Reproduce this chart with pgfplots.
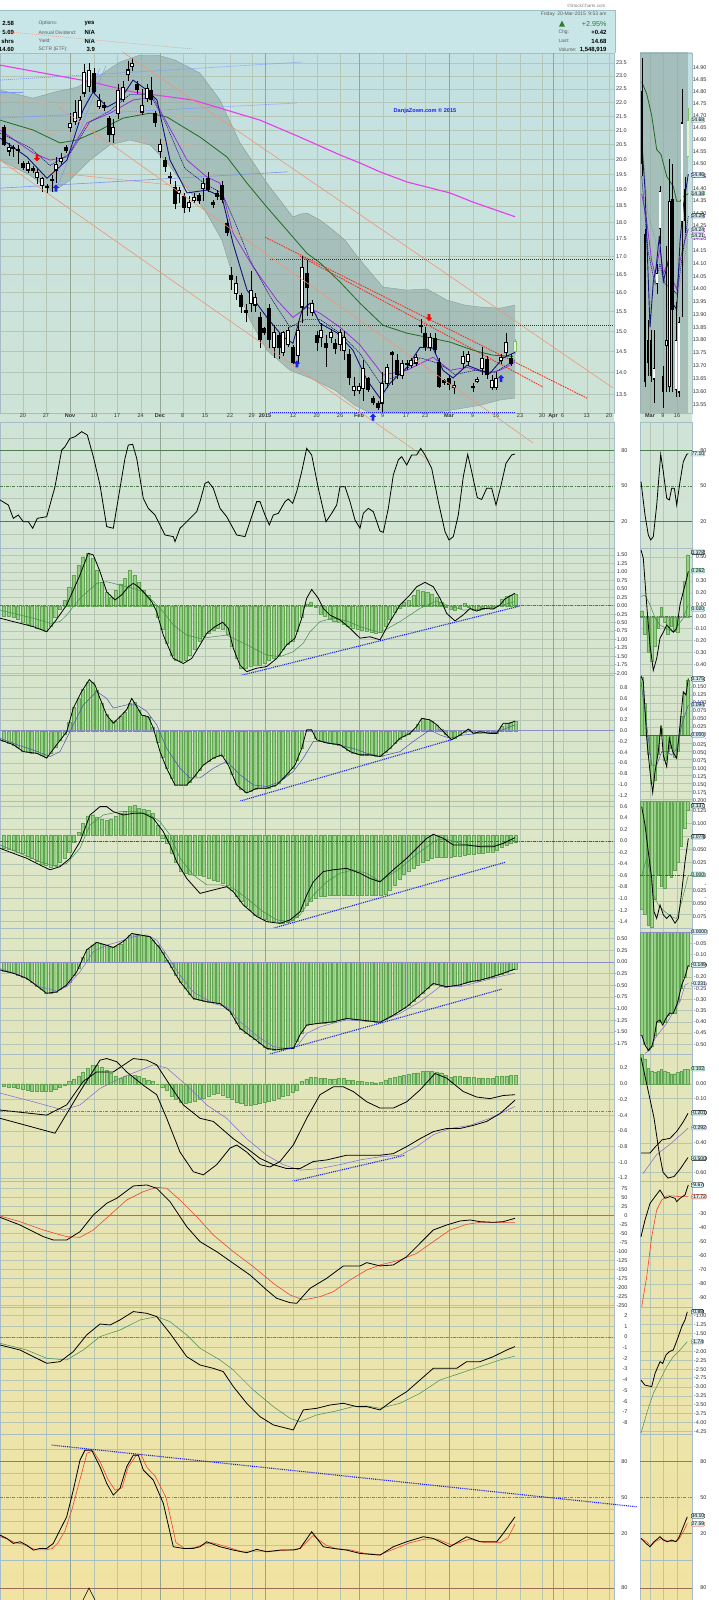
\documentclass[border=0pt]{standalone}
\usepackage{pgfplots}
\pgfplotsset{compat=1.18}
\usepackage{pgfplotstable}
\usepackage{fontspec}
\setmainfont{Liberation Sans}

\definecolor{hdr}{HTML}{C8E6E8}
\definecolor{hdrline}{HTML}{9DBFC8}
\definecolor{bgtop}{HTML}{C3E1E3}
\definecolor{bgmid}{HTML}{DCE6C8}
\definecolor{bgbot}{HTML}{F1E3A1}
\definecolor{gridc}{HTML}{B5C7B4}
\definecolor{monthc}{HTML}{93A693}
\definecolor{framec}{HTML}{A6BCC6}
\definecolor{labc}{HTML}{333333}
\definecolor{bandc}{HTML}{8FA8A4}
\definecolor{bandedge}{HTML}{8A9C9A}
\definecolor{salmon}{HTML}{F0957A}
\definecolor{magentac}{HTML}{E83CE8}
\definecolor{ma50}{HTML}{216A21}
\definecolor{purp}{HTML}{9B32D6}
\definecolor{navyc}{HTML}{14147A}
\definecolor{hfill}{HTML}{93D184}
\definecolor{hdraw}{HTML}{63A353}
\definecolor{refg}{HTML}{4E7E4E}
\definecolor{olivec}{HTML}{7A8A50}
\definecolor{sigblue}{HTML}{4F4FB5}
\definecolor{sigpurp}{HTML}{8466D8}
\definecolor{sigg}{HTML}{3F8F4F}
\definecolor{redl}{HTML}{F2462E}
\definecolor{brownl}{HTML}{9A6A5A}
\definecolor{tblue}{HTML}{1A22F0}
\definecolor{lblue}{HTML}{7C95F0}
\definecolor{reddash}{HTML}{FF2A1A}
\definecolor{zeroblue}{HTML}{8C8CC8}
\definecolor{boxc}{HTML}{D2EEF0}
\definecolor{lastg}{HTML}{7DC35A}
\definecolor{lastf}{HTML}{E6F5CF}
\definecolor{upg}{HTML}{2E7D32}

\pgfdeclareplotmark{uparr}{%
  \pgfpathmoveto{\pgfqpoint{0pt}{3.6pt}}%
  \pgfpathlineto{\pgfqpoint{3.2pt}{0.3pt}}%
  \pgfpathlineto{\pgfqpoint{1.4pt}{0.3pt}}%
  \pgfpathlineto{\pgfqpoint{1.4pt}{-3.4pt}}%
  \pgfpathlineto{\pgfqpoint{-1.4pt}{-3.4pt}}%
  \pgfpathlineto{\pgfqpoint{-1.4pt}{0.3pt}}%
  \pgfpathlineto{\pgfqpoint{-3.2pt}{0.3pt}}%
  \pgfpathclose\pgfusepathqfill}
\pgfdeclareplotmark{dnarr}{%
  \pgfpathmoveto{\pgfqpoint{0pt}{-3.6pt}}%
  \pgfpathlineto{\pgfqpoint{3.2pt}{-0.3pt}}%
  \pgfpathlineto{\pgfqpoint{1.4pt}{-0.3pt}}%
  \pgfpathlineto{\pgfqpoint{1.4pt}{3.4pt}}%
  \pgfpathlineto{\pgfqpoint{-1.4pt}{3.4pt}}%
  \pgfpathlineto{\pgfqpoint{-1.4pt}{-0.3pt}}%
  \pgfpathlineto{\pgfqpoint{-3.2pt}{-0.3pt}}%
  \pgfpathclose\pgfusepathqfill}

\pgfplotsset{
  base/.style={scale only axis, anchor=south west,
    axis line style={draw=framec, line width=0.7pt},
    tick style={draw=none}, major tick length=0pt, minor tick length=0pt,
    yticklabel pos=right,
    yticklabel style={font=\fontsize{5.5}{6}\selectfont, text=labc, inner sep=0.3pt, anchor=west},
    xticklabels={},
    major grid style={draw=gridc, line width=0.4pt},
    minor grid style={draw=gridc, line width=0.3pt}},
  lpan/.style={base, width=614pt, xmin=0, xmax=614,
    xtick={23,46,94,117,140.7,182.7,205,230,251.7,293,316.7,340,382.7,406,425,472.7,496,520,542,562.7,586.7,609},
    xmajorgrids,
    extra x ticks={70,160,265,359,449,553},
    extra x tick labels={},
    extra x tick style={grid=major, major grid style={draw=monthc, line width=0.55pt}},
    ymajorgrids},
  rlab/.style={yticklabel style={text width=13pt, align=right}},
  mpan/.style={base, width=52pt, xmin=640, xmax=692,
    xtick={650,663,677}, xmajorgrids, ymajorgrids,
    yticklabel style={text width=14pt, align=right}},
  ov/.style={scale only axis, anchor=south west, axis lines=none, ticks=none, clip=false},
  hist/.style={ybar, bar width=3.1pt, bar shift=0pt, fill=hfill, draw=hdraw, line width=0.3pt},
  mhist/.style={ybar, bar width=2.6pt, bar shift=0pt, fill=hfill, draw=hdraw, line width=0.3pt},
  blk/.style={black, line width=0.8pt},
  thn/.style={line width=0.5pt},
  dd/.style={dash pattern=on 3pt off 1.2pt on 0.8pt off 1.2pt},
  tl/.style={color=tblue, line width=1.1pt, dash pattern=on 1pt off 0.9pt},
  f1/.style={yticklabel={\pgfmathprintnumber[assume math mode=true,fixed,fixed zerofill,precision=1]{\tick}}},
  f2/.style={yticklabel={\pgfmathprintnumber[assume math mode=true,fixed,fixed zerofill,precision=2]{\tick}}},
  f3/.style={yticklabel={\pgfmathprintnumber[assume math mode=true,fixed,fixed zerofill,precision=3]{\tick}}},
  f0/.style={yticklabel={\pgfmathprintnumber[assume math mode=true,fixed,precision=0]{\tick}}},
  wick/.style={draw=none, forget plot, error bars/.cd, y dir=both, y explicit, error mark=none, error bar style={draw=#1, line width=0.45pt}},
  body/.style 2 args={draw=none, forget plot, error bars/.cd, y dir=plus, y explicit, error mark=none, error bar style={draw=#1, line width=#2}},
}
\tikzset{lbox/.style={draw=#1, fill=boxc, rounded corners=1.2pt, inner sep=0.5pt, font=\fontsize{5}{5.5}\selectfont, text=black, anchor=west}}

% ---------------- data ----------------
\pgfplotstableread{
x o h l c
4 21.10 21.20 20.45 20.50
23 19.88 19.95 19.65 19.72
33 19.72 19.80 19.55 19.63
66 20.42 20.50 20.20 20.28
94 23.10 23.30 22.30 22.40
104 21.90 22.00 21.70 21.80
109 21.45 21.50 20.60 20.85
137 22.70 22.80 22.30 22.45
151 22.46 22.95 21.90 22.09
155 21.60 21.70 21.10 21.25
165 19.98 20.10 19.60 19.75
170 19.45 19.60 19.20 19.38
175 19.10 19.30 18.40 18.55
184 18.80 18.90 18.27 18.45
199 18.85 18.90 18.55 18.65
208 19.40 19.60 18.95 19.00
213 18.62 18.70 18.45 18.53
217 18.90 19.00 18.70 18.78
222 19.15 19.30 18.60 18.68
227 17.98 18.10 17.60 17.68
231 16.48 16.70 16.07 16.34
241 15.93 16.00 15.46 15.62
246 15.54 15.70 15.23 15.46
260 15.35 15.50 14.58 14.78
264 15.08 15.10 14.90 14.95
269 15.60 15.70 14.55 14.78
279 14.90 14.95 14.33 14.58
293 14.60 14.65 14.20 14.22
307 16.54 16.90 15.40 16.12
317 14.90 15.00 14.50 14.70
326 14.70 14.90 14.12 14.58
335 14.70 14.80 14.45 14.55
349 14.45 14.55 13.70 13.88
368 13.88 13.90 13.55 13.59
373 13.41 13.45 13.25 13.30
378 13.30 13.35 13.15 13.18
392 14.48 14.50 13.70 14.41
397 14.29 14.45 13.85 13.93
407 14.22 14.30 14.05 14.18
421 15.15 15.30 14.95 15.10
425 14.96 15.10 14.50 14.60
435 14.83 14.95 14.45 14.53
439 14.24 14.35 13.63 13.66
444 13.82 13.85 13.70 13.75
449 13.86 13.95 13.60 13.70
473 13.68 13.75 13.55 13.63
487 14.33 14.40 13.85 13.93
511 14.34 14.45 14.15 14.20
}\blackc

\pgfplotstableread{
x o h l c
9 20.28 20.55 20.10 20.42
13 20.36 20.50 20.08 20.40
18 20.30 20.50 19.85 20.34
28 19.65 19.95 19.55 19.88
37 19.40 19.70 19.20 19.58
42 19.15 19.42 18.95 19.38
47 19.08 19.20 18.90 19.12
52 19.30 19.50 18.95 19.34
56 19.65 20.08 19.22 19.82
61 19.92 20.20 19.85 20.05
70 21.08 21.60 20.95 21.25
75 21.30 22.10 21.20 21.65
80 21.45 22.25 21.35 22.09
84 22.35 23.45 22.20 23.15
89 22.60 23.50 22.40 23.20
99 21.85 22.30 21.75 22.09
113 20.85 21.40 20.55 21.10
118 21.60 22.70 21.40 22.46
123 22.10 22.80 22.00 22.57
128 23.04 23.60 22.80 23.23
132 23.35 23.70 23.20 23.50
142 21.65 22.50 21.55 21.90
147 22.16 22.70 22.00 22.53
160 20.25 20.70 20.05 20.50
179 18.90 19.10 18.60 19.00
189 18.45 18.80 18.30 18.62
194 18.68 18.90 18.60 18.78
203 19.06 19.40 18.65 19.22
236 15.98 16.45 15.80 16.25
251 15.72 16.60 15.50 16.07
255 15.67 16.00 15.50 15.88
274 14.60 15.15 14.35 14.96
283 14.48 15.00 14.40 14.96
288 14.67 15.10 14.60 15.03
298 14.41 15.25 14.20 15.03
302 15.62 17.00 15.20 16.68
312 15.48 15.80 15.40 15.72
321 14.85 15.20 14.60 15.03
331 14.85 15.05 14.70 14.96
340 14.67 15.05 14.50 14.96
344 14.53 15.00 14.30 14.85
354 13.59 13.90 13.45 13.68
359 13.59 13.75 13.50 13.68
363 13.63 14.30 13.35 14.10
382 13.30 14.00 13.10 13.75
387 13.75 14.20 13.65 14.12
402 13.93 14.30 13.85 14.22
411 14.17 14.35 14.10 14.29
416 14.22 14.45 14.15 14.36
430 14.60 14.95 14.50 14.85
454 13.66 13.80 13.50 13.70
463 14.20 14.50 14.10 14.38
468 14.26 14.50 14.15 14.43
477 13.80 13.90 13.75 13.83
482 14.10 14.60 13.95 14.34
492 13.64 13.95 13.60 13.82
496 13.64 14.00 13.60 13.86
501 14.29 14.45 14.20 14.36
506 14.47 14.95 14.40 14.72
}\whitec

\pgfplotstableread{
x o h l c
515 14.50 14.80 14.45 14.75
}\lastc

\pgfplotstableread{
x o h l c
642 14.80 14.94 14.45 14.50
645 14.22 14.24 13.62 13.64
648 13.80 13.88 13.66 13.71
651 13.80 13.84 13.64 13.66
663 13.66 13.70 13.54 13.60
672.5 14.36 14.50 13.60 13.92
685 14.40 14.45 14.22 14.27
}\mblackc

\pgfplotstableread{
x o h l c
654 13.65 13.84 13.56 13.69
657 14.02 14.10 13.98 14.06
660 14.24 14.41 14.18 14.39
666.5 13.78 14.17 13.60 13.80
669.5 13.62 14.52 13.60 14.35
676 13.61 13.95 13.58 13.80
679 13.60 13.89 13.58 13.87
682 14.27 14.81 13.89 14.67
}\mwhitec

\pgfplotstableread{
x o h l c
688 14.53 14.73 14.53 14.68
}\mlastc

\pgfplotstableread{
i h3 h4 h5 h6 h7
0 -0.30 -0.19 -0.23 -0.19 -0.03
1 -0.30 -0.23 -0.25 -0.21 -0.04
2 -0.35 -0.26 -0.27 -0.24 -0.05
3 -0.40 -0.31 -0.29 -0.28 -0.06
4 -0.50 -0.38 -0.32 -0.32 -0.07
5 -0.55 -0.40 -0.36 -0.36 -0.08
6 -0.60 -0.41 -0.40 -0.44 -0.09
7 -0.65 -0.42 -0.45 -0.51 -0.10
8 -0.70 -0.46 -0.50 -0.59 -0.10
9 -0.75 -0.50 -0.53 -0.66 -0.10
10 -0.60 -0.42 -0.55 -0.66 -0.09
11 -0.35 -0.30 -0.52 -0.64 -0.07
12 -0.10 -0.18 -0.48 -0.58 -0.05
13 0.15 -0.07 -0.40 -0.52 -0.02
14 0.55 0.15 -0.29 -0.43 0.03
15 0.90 0.44 -0.12 -0.29 0.06
16 1.20 0.60 0.05 -0.14 0.10
17 1.45 0.77 0.20 0.10 0.15
18 1.55 0.91 0.33 0.28 0.20
19 1.40 0.90 0.35 0.37 0.23
20 1.05 0.76 0.31 0.42 0.24
21 0.70 0.52 0.28 0.39 0.21
22 0.40 0.31 0.26 0.36 0.17
23 0.25 0.19 0.28 0.32 0.14
24 0.45 0.18 0.32 0.34 0.10
25 0.65 0.27 0.38 0.39 0.07
26 0.80 0.35 0.42 0.47 0.09
27 1.05 0.51 0.50 0.58 0.11
28 0.90 0.53 0.51 0.60 0.11
29 0.70 0.38 0.47 0.58 0.09
30 0.45 0.28 0.45 0.57 0.07
31 0.30 0.26 0.43 0.55 0.05
32 0.05 0.07 0.38 0.47 0.03
33 -0.35 -0.22 0.17 0.35 0.00
34 -0.70 -0.49 -0.05 0.22 -0.04
35 -1.10 -0.70 -0.15 0.05 -0.08
36 -1.45 -0.88 -0.32 -0.11 -0.16
37 -1.60 -1.01 -0.48 -0.28 -0.20
38 -1.65 -1.01 -0.62 -0.44 -0.24
39 -1.60 -1.01 -0.66 -0.57 -0.25
40 -1.45 -0.95 -0.68 -0.69 -0.24
41 -1.30 -0.85 -0.69 -0.79 -0.22
42 -1.05 -0.73 -0.70 -0.82 -0.20
43 -0.90 -0.63 -0.72 -0.84 -0.18
44 -0.80 -0.57 -0.75 -0.86 -0.16
45 -0.72 -0.51 -0.78 -0.87 -0.13
46 -0.67 -0.48 -0.80 -0.88 -0.12
47 -0.70 -0.47 -0.83 -0.93 -0.14
48 -0.85 -0.60 -0.87 -1.01 -0.17
49 -1.20 -0.80 -0.95 -1.12 -0.20
50 -1.55 -1.00 -1.06 -1.30 -0.23
51 -1.85 -1.08 -1.15 -1.44 -0.25
52 -1.85 -1.15 -1.24 -1.52 -0.27
53 -1.80 -1.13 -1.30 -1.59 -0.27
54 -1.75 -1.08 -1.39 -1.66 -0.26
55 -1.75 -1.07 -1.43 -1.74 -0.25
56 -1.70 -1.07 -1.46 -1.82 -0.24
57 -1.60 -1.06 -1.49 -1.86 -0.22
58 -1.55 -1.03 -1.50 -1.88 -0.21
59 -1.45 -0.98 -1.52 -1.87 -0.18
60 -1.30 -0.89 -1.53 -1.86 -0.16
61 -1.15 -0.80 -1.51 -1.85 -0.14
62 -1.05 -0.70 -1.48 -1.85 -0.11
63 -0.75 -0.55 -1.42 -1.70 -0.08
64 -0.35 -0.33 -1.33 -1.52 0.03
65 0.05 -0.01 -1.22 -1.36 0.06
66 0.10 0.00 -1.14 -1.33 0.08
67 -0.05 -0.14 -1.10 -1.32 0.08
68 -0.25 -0.19 -1.07 -1.31 0.07
69 -0.30 -0.22 -1.06 -1.30 0.07
70 -0.40 -0.24 -1.05 -1.29 0.06
71 -0.45 -0.25 -1.05 -1.28 0.06
72 -0.50 -0.26 -1.04 -1.25 0.07
73 -0.55 -0.31 -1.04 -1.22 0.07
74 -0.60 -0.37 -1.04 -1.21 0.05
75 -0.65 -0.41 -1.04 -1.22 0.04
76 -0.70 -0.44 -1.04 -1.24 0.03
77 -0.72 -0.45 -1.04 -1.25 0.03
78 -0.75 -0.45 -1.04 -1.26 0.02
79 -0.78 -0.45 -1.04 -1.27 0.02
80 -0.80 -0.47 -1.04 -1.28 0.01
81 -0.77 -0.47 -1.04 -1.28 0.02
82 -0.60 -0.40 -1.02 -1.23 0.05
83 -0.40 -0.33 -0.95 -1.17 0.07
84 -0.20 -0.24 -0.87 -1.11 0.08
85 -0.08 -0.15 -0.76 -1.04 0.10
86 0.10 -0.11 -0.68 -0.99 0.11
87 0.17 -0.06 -0.62 -0.92 0.12
88 0.30 0.01 -0.58 -0.84 0.13
89 0.46 0.12 -0.52 -0.75 0.14
90 0.42 0.23 -0.47 -0.66 0.16
91 0.40 0.21 -0.43 -0.57 0.16
92 0.35 0.17 -0.41 -0.48 0.16
93 0.25 0.11 -0.39 -0.48 0.15
94 0.10 0.03 -0.38 -0.51 0.14
95 -0.05 -0.06 -0.38 -0.53 0.11
96 -0.10 -0.15 -0.38 -0.52 0.08
97 -0.13 -0.13 -0.37 -0.50 0.09
98 -0.08 -0.08 -0.36 -0.49 0.09
99 0.07 -0.02 -0.35 -0.46 0.08
100 -0.05 0.02 -0.34 -0.43 0.08
101 -0.12 -0.05 -0.33 -0.41 0.08
102 -0.13 -0.03 -0.32 -0.40 0.07
103 -0.10 -0.03 -0.31 -0.37 0.07
104 -0.08 -0.04 -0.30 -0.35 0.07
105 -0.06 -0.05 -0.29 -0.32 0.07
106 0.00 -0.05 -0.26 -0.29 0.09
107 0.20 0.09 -0.21 -0.25 0.10
108 0.27 0.14 -0.17 -0.22 0.10
109 0.30 0.15 -0.14 -0.18 0.11
110 0.34 0.18 -0.12 -0.15 0.11
}\histtab

\begin{document}
\raisebox{0pt}[1600pt][0pt]{%
\begin{tikzpicture}[x=1pt,y=1pt,baseline=0pt,trim left=0pt,trim right=718pt]
\fill[white] (0,0) rectangle (718,1600);
\shade[top color=bgtop, bottom color=bgbot, middle color=bgmid] (0,0) rectangle (614,1547);
\shade[top color=bgtop, bottom color=bgbot, middle color=bgmid] (640,0) rectangle (692,1547);
% header
\fill[hdr] (0,1547) rectangle (615,1590);
\draw[hdrline, line width=0.6pt] (0,1590) -- (615,1590) -- (615,1547);
\node[anchor=east, font=\fontsize{4.6}{5}\selectfont, text=gray] at (609,1594) {©StockCharts.com};
\begin{scope}[font=\fontsize{6}{7}\selectfont\bfseries]
\node[anchor=east] at (17.5,1576.3) {2.58};
\node[anchor=east] at (17.5,1567.7) {5.69};
\node[anchor=east] at (17.5,1559) {l shrs};
\node[anchor=east] at (17.5,1550.7) {14.60};
\node[anchor=west] at (81,1576.3) {yes};
\node[anchor=west] at (81,1567.7) {N/A};
\node[anchor=west] at (81,1559) {N/A};
\node[anchor=west] at (83,1550.7) {3.9};
\node[anchor=east] at (610,1567.7) {+0.42};
\node[anchor=east] at (610,1559) {14.68};
\node[anchor=east] at (610,1550.3) {1,548,919};
\end{scope}
\begin{scope}[font=\fontsize{5}{6}\selectfont, text=labc!80]
\node[anchor=west] at (35,1576.3) {Options:};
\node[anchor=west] at (35,1567.7) {Annual Dividend:};
\node[anchor=west] at (35,1559) {Yield:};
\node[anchor=west] at (35,1550.7) {SCTR (ETF):};
\node[anchor=east] at (610,1585.3) {Friday\enspace 20-Mar-2015\enspace 9:53 am};
\node[anchor=west] at (555,1567.7) {Chg:};
\node[anchor=west] at (555,1559) {Last:};
\node[anchor=west] at (555,1550.3) {Volume:};
\end{scope}
\fill[upg] (559,1573.3) -- (565,1573.3) -- (562,1579.3) -- cycle;
\node[anchor=east, font=\fontsize{7.2}{8}\selectfont, text=upg] at (610,1576.3) {+2.95\%};

% ================= MAIN PRICE (log price scale: axis in ln units) =================
\begin{axis}[lpan, at={(0pt,1187pt)}, height=360pt, ymin=2.5711, ymax=3.1739, y filter/.expression={ln(y)},
  ytick={2.60269,2.63906,2.67415,2.70805,2.74084,2.77259,2.80336,2.83321,2.86220,2.89037,2.91777,2.94444,2.97041,2.99573,3.02042,3.04452,3.06805,3.09104,3.11352,3.13549,3.15700},
  yticklabels={13.5,14.0,14.5,15.0,15.5,16.0,16.5,17.0,17.5,18.0,18.5,19.0,19.5,20.0,20.5,21.0,21.5,22.0,22.5,23.0,23.5},
  yticklabel style={xshift=1.5pt},
  xticklabels={20,27,10,17,24,8,15,22,29,12,20,26,9,17,23,9,16,23,30,6,13,20},
  extra x tick labels={\textbf{Nov},\textbf{Dec},\textbf{2015},\textbf{Feb},\textbf{Mar},\textbf{Apr}},
  xticklabel style={font=\fontsize{5.5}{6}\selectfont, text=labc, inner sep=0.8pt}]
\addplot[fill=bandc, fill opacity=0.6, draw=none] coordinates {
(0,22.46)(20,22.28)(33,22.16)(55,22.39)(77,22.57)(100,23.03)(120,23.54)(140,23.82)(157,23.82)(175,23.62)(200,23.11)(220,22.09)(240,20.56)(255,19.81)(267,19.22)(280,18.68)(293,18.16)(300,18.25)(307,18.28)(320,18.07)(333,17.77)(345,17.47)(360,16.90)(383,16.15)(407,16.07)(427,16.10)(447,15.80)(465,15.67)(480,15.62)(500,15.59)(515,15.67)
(515,13.41)(500,13.37)(480,13.25)(450,13.14)(420,13.03)(400,12.96)(375,13.03)(355,13.25)(335,13.59)(310,13.87)(290,14.05)(267,14.53)(250,15.28)(235,16.26)(222,17.47)(205,18.37)(185,19.13)(165,19.98)(150,20.49)(130,20.66)(110,20.49)(90,19.98)(70,19.32)(53,18.94)(30,19.48)(0,19.98)};
\addplot[bandedge, line width=0.4pt] coordinates {(0,22.46)(20,22.28)(33,22.16)(55,22.39)(77,22.57)(100,23.03)(120,23.54)(140,23.82)(157,23.82)(175,23.62)(200,23.11)(220,22.09)(240,20.56)(255,19.81)(267,19.22)(280,18.68)(293,18.16)(300,18.25)(307,18.28)(320,18.07)(333,17.77)(345,17.47)(360,16.90)(383,16.15)(407,16.07)(427,16.10)(447,15.80)(465,15.67)(480,15.62)(500,15.59)(515,15.67)};
\addplot[bandedge, line width=0.4pt] coordinates {(0,19.98)(30,19.48)(53,18.94)(70,19.32)(90,19.98)(110,20.49)(130,20.66)(150,20.49)(165,19.98)(185,19.13)(205,18.37)(222,17.47)(235,16.26)(250,15.28)(267,14.53)(290,14.05)(310,13.87)(335,13.59)(355,13.25)(375,13.03)(400,12.96)(420,13.03)(450,13.14)(480,13.25)(500,13.37)(515,13.41)};
% annotation lines
\addplot[salmon!80, line width=0.5pt, dash pattern=on 2pt off 1pt] coordinates {(0,22.16)(213,21.36)};
\addplot[salmon!80, line width=0.5pt, dash pattern=on 2pt off 1pt] coordinates {(0,21.08)(193,20.49)};
\addplot[salmon, line width=0.5pt] coordinates {(0,19.75)(190,19.10)};
\addplot[lblue, line width=0.7pt, dash pattern=on 1pt off 1pt] coordinates {(0,22.84)(302,23.54)};
\addplot[lblue, line width=0.7pt, dash pattern=on 1pt off 1pt] coordinates {(0,21.43)(297,21.98)};
\addplot[lblue, line width=0.6pt] coordinates {(0,19.06)(288,19.59)};
\addplot[lblue, line width=0.6pt] coordinates {(0,22.39)(23,22.39)};
\addplot[lblue, line width=0.4pt] coordinates {(50,18.95)(100,23.30)};
\addplot[lblue, line width=0.4pt] coordinates {(56,19.00)(106,23.40)};
\addplot[tblue, line width=0.6pt, dash pattern=on 1pt off 1pt] coordinates {(270,16.93)(614,16.93)};
\addplot[tblue, line width=0.6pt, dash pattern=on 1pt off 1pt] coordinates {(270,15.15)(614,15.15)};
\addplot[tblue, line width=0.6pt, dash pattern=on 1pt off 1pt] coordinates {(270,13.10)(515,13.10)};
\addplot[reddash, line width=0.9pt, dash pattern=on 1.6pt off 1pt] coordinates {(265,17.56)(587,13.41)};
\addplot[reddash, line width=0.9pt, dash pattern=on 1.6pt off 1pt] coordinates {(300,17.01)(543,13.66)};
% moving averages
\addplot[magentac, line width=1.1pt] coordinates {(0,23.42)(93,22.76)(133,22.39)(193,22.09)(260,21.36)(300,20.76)(340,20.15)(360,19.88)(380,19.59)(407,19.26)(450,18.91)(473,18.62)(515,18.17)};
\addplot[ma50, line width=0.8pt] coordinates {(0,21.36)(33,21.01)(60,20.56)(77,20.66)(100,21.01)(123,21.43)(150,21.61)(167,21.47)(200,20.76)(227,20.08)(247,19.22)(267,18.46)(293,17.56)(307,17.09)(320,16.82)(340,16.29)(360,15.72)(383,15.15)(407,14.95)(427,14.85)(450,14.73)(473,14.53)(493,14.41)(513,14.38)};
\addplot[purp, line width=0.8pt] coordinates {(0,21.01)(33,20.22)(50,19.98)(67,20.08)(87,21.26)(110,21.61)(133,22.09)(153,22.20)(167,21.26)(187,19.98)(207,19.42)(220,19.22)(233,17.68)(253,16.71)(277,15.80)(293,15.35)(307,15.62)(320,15.46)(340,15.10)(360,14.66)(383,13.94)(407,14.05)(433,14.36)(450,14.05)(467,14.12)(487,13.98)(500,14.05)(515,14.24)};
\addplot[navyc, line width=0.6pt, dash pattern=on 1.2pt off 0.8pt] coordinates {(0,20.9)(30,20.4)(50,19.8)(70,20.2)(90,21.3)(110,21.7)(130,22.3)(150,22.3)(165,21.3)(185,19.7)(205,19.2)(222,18.9)(235,18.0)(250,16.9)(270,15.9)(290,15.1)(305,15.3)(320,15.3)(340,14.95)(360,14.45)(380,13.75)(400,13.95)(420,14.35)(440,14.2)(455,13.95)(475,14.05)(495,14.0)(515,14.3)};
\addplot[navyc, line width=0.9pt] coordinates {(0,20.73)(27,20.08)(47,19.38)(67,19.98)(83,21.72)(93,22.39)(107,21.83)(120,22.09)(133,22.84)(147,22.46)(157,22.09)(170,19.98)(187,18.91)(207,19.00)(222,18.78)(233,17.38)(247,16.07)(267,15.35)(283,14.86)(293,14.70)(302,15.54)(310,15.72)(320,15.20)(337,14.96)(353,14.53)(367,13.82)(380,13.41)(390,13.75)(407,14.12)(420,14.60)(433,14.58)(443,14.05)(453,13.87)(467,14.17)(480,14.05)(490,13.98)(503,14.34)(515,14.48)};
% candles: wicks (error bars in ln units)
\addplot[wick=black] table[x=x, y=c, y error plus expr={ln(\thisrow{h}/\thisrow{c})}, y error minus expr={ln(\thisrow{c}/\thisrow{l})}] {\blackc};
\addplot[wick=black] table[x=x, y=c, y error plus expr={ln(\thisrow{h}/\thisrow{c})}, y error minus expr={ln(\thisrow{c}/\thisrow{l})}] {\whitec};
\addplot[wick=lastg] table[x=x, y=c, y error plus expr={ln(\thisrow{h}/\thisrow{c})}, y error minus expr={ln(\thisrow{c}/\thisrow{l})}] {\lastc};
% bodies
\addplot[body={black}{3.2pt}] table[x=x, y=c, y error plus expr={max(ln(\thisrow{o}/\thisrow{c}),0.0018)}] {\blackc};
\addplot[body={black}{3.4pt}] table[x=x, y expr=\thisrow{o}*0.99916, y error plus expr={ln(\thisrow{c}/\thisrow{o})+0.00168}] {\whitec};
\addplot[body={white}{2.2pt}] table[x=x, y expr=\thisrow{o}*1.00105, y error plus expr={max(ln(\thisrow{c}/\thisrow{o})-0.0021,0)}] {\whitec};
\addplot[body={lastg}{3.4pt}] table[x=x, y expr=\thisrow{o}*0.99916, y error plus expr={ln(\thisrow{c}/\thisrow{o})+0.00168}] {\lastc};
\addplot[body={lastf}{2.2pt}] table[x=x, y expr=\thisrow{o}*1.00105, y error plus expr={max(ln(\thisrow{c}/\thisrow{o})-0.0021,0)}] {\lastc};
\node[font=\fontsize{5.6}{6}\selectfont\bfseries, text=tblue] at (axis cs:425,3.0773) {DanjaZown.com © 2015};
\end{axis}

% overlay for channel lines and arrows (unclipped)
\begin{axis}[ov, at={(0pt,1187pt)}, width=614pt, height=360pt, xmin=0, xmax=614, ymin=2.5711, ymax=3.1739, y filter/.expression={ln(y)}]
\addplot[salmon, line width=0.6pt] coordinates {(123,23.93)(613,13.64)};
\addplot[salmon, line width=0.6pt] coordinates {(60,21.80)(533,12.44)};
\addplot[salmon, line width=0.6pt] coordinates {(0,19.98)(433,12.03)};
\addplot[salmon, line width=0.5pt, dash pattern=on 1pt off 1pt] coordinates {(0,24.79)(193,24.06)};
\addplot[only marks, mark=uparr, color=tblue] coordinates {(56,19.06)(297,14.2)(501,13.86)(373,12.99)};
\addplot[only marks, mark=dnarr, color=red] coordinates {(37,20.05)(429,15.35)};
\end{axis}

% ================= MINI MAIN =================
\begin{axis}[mpan, at={(640pt,1187pt)}, height=360pt, ymin=2.60417, ymax=2.70538, ymajorgrids=false, y filter/.expression={ln(y)},
  ytick={2.60639,2.61007,2.61374,2.61740,2.62104,2.62467,2.62829,2.63189,2.63548,2.63906,2.64263,2.64617,2.64971,2.65324,2.65676,2.66026,2.66375,2.66723,2.67070,2.67415,2.67759,2.68102,2.68444,2.68785,2.69124,2.69463,2.69800,2.70136},
  yticklabels={13.55,13.60,13.65,13.70,13.75,13.80,13.85,13.90,13.95,14.00,14.05,14.10,14.15,14.20,14.25,14.30,14.35,14.40,14.45,14.50,14.55,14.60,14.65,14.70,14.75,14.80,14.85,14.90},
  xticklabels={\textbf{Mar},9,16}, xticklabel style={font=\fontsize{5.5}{6}\selectfont, text=labc, inner sep=0.8pt}]
\addplot[fill=bandc, fill opacity=0.6, draw=none] coordinates {(640,13.4)(688,13.4)(688,15.1)(640,15.1)};
\addplot[gray, line width=0.4pt, dash pattern=on 1pt off 1pt] coordinates {(642,14.6)(648,14.3)(655,14.2)(662,14.05)(670,14.0)(678,13.98)(688,14.2)};
\addplot[ma50, line width=0.8pt] coordinates {(641.7,14.84)(646.7,14.79)(651.7,14.70)(656.7,14.56)(661,14.54)(666.7,14.45)(673.3,14.41)(676.7,14.35)(680,14.35)(683.3,14.37)(688.3,14.38)};
\addplot[purp, line width=0.8pt] coordinates {(641.7,14.38)(646.7,14.27)(651.7,14.11)(655,14.06)(660,14.16)(663.3,14.06)(668.3,14.11)(673.3,14.03)(676.7,14.00)(680,14.11)(683.3,14.17)(688.3,14.24)};
\addplot[navyc, line width=0.6pt, dash pattern=on 1.2pt off 0.8pt] coordinates {(641.7,14.45)(648,14.15)(655,14.02)(660,14.10)(665,14.02)(672,14.0)(677,13.98)(682,14.12)(688.3,14.29)};
\addplot[navyc, line width=0.9pt] coordinates {(641.7,14.59)(645,14.40)(650,13.85)(653.3,14.03)(656,14.08)(659.3,14.21)(663.3,14.03)(668.3,14.11)(673.3,13.94)(676.7,13.92)(680,14.19)(683.3,14.33)(688.3,14.46)};
\addplot[wick=black] table[x=x, y=c, y error plus expr={ln(\thisrow{h}/\thisrow{c})}, y error minus expr={ln(\thisrow{c}/\thisrow{l})}] {\mblackc};
\addplot[wick=black] table[x=x, y=c, y error plus expr={ln(\thisrow{h}/\thisrow{c})}, y error minus expr={ln(\thisrow{c}/\thisrow{l})}] {\mwhitec};
\addplot[wick=lastg] table[x=x, y=c, y error plus expr={ln(\thisrow{h}/\thisrow{c})}, y error minus expr={ln(\thisrow{c}/\thisrow{l})}] {\mlastc};
\addplot[body={black}{2.6pt}] table[x=x, y=c, y error plus expr={max(ln(\thisrow{o}/\thisrow{c}),0.0004)}] {\mblackc};
\addplot[body={black}{2.8pt}] table[x=x, y expr=\thisrow{o}*0.99986, y error plus expr={ln(\thisrow{c}/\thisrow{o})+0.00028}] {\mwhitec};
\addplot[body={white}{1.7pt}] table[x=x, y expr=\thisrow{o}*1.00017, y error plus expr={max(ln(\thisrow{c}/\thisrow{o})-0.00034,0)}] {\mwhitec};
\addplot[body={lastg}{2.8pt}] table[x=x, y expr=\thisrow{o}*0.99986, y error plus expr={ln(\thisrow{c}/\thisrow{o})+0.00028}] {\mlastc};
\addplot[body={lastf}{1.7pt}] table[x=x, y expr=\thisrow{o}*1.00017, y error plus expr={max(ln(\thisrow{c}/\thisrow{o})-0.00034,0)}] {\mlastc};
\end{axis}

% ================= PANEL 2: stochastic =================
\begin{axis}[lpan, rlab, at={(0pt,1052pt)}, height=126pt, ymin=-1.9, ymax=103.6, ymajorgrids=false,
  ytick={20,50,80}, f0, minor ytick={10,30,40,60,70,90}, yminorgrids]
\addplot[refg, line width=0.7pt] coordinates {(0,80)(614,80)};
\addplot[refg, line width=0.7pt] coordinates {(0,20)(614,20)};
\addplot[refg, line width=0.6pt, dd] coordinates {(0,50)(614,50)};
\addplot[blk] coordinates {(0,38.3)(8.3,34.1)(13.3,22.9)(18.3,25.7)(23.3,20.1)(28.3,20.1)(32.7,14.6)(37.3,22.9)(46.7,24.3)(55,49.4)(61.7,80.1)(65,82.9)(70,89.9)(75,91.3)(81.7,95.5)(87.3,92.7)(93.3,74.6)(100,50.8)(106.7,16.0)(113.3,14.6)(120,48.1)(125,73.2)(128.3,84.3)(132.7,84.9)(136.7,73.2)(143.3,39.7)(148.3,31.3)(155,25.7)(160,17.4)(165,9.0)(173.3,7.6)(175,3.4)(180,14.6)(186.7,20.1)(190,22.9)(196.7,28.5)(200,36.9)(205,52.2)(208.3,53.6)(213.3,48.1)(220,31.3)(226.7,24.3)(236.7,9.0)(245,7.6)(250,20.1)(256.7,36.9)(260,36.9)(265,25.7)(269.3,17.4)(273.3,25.7)(278.3,27.1)(285,36.9)(288.3,39.1)(292.7,35.5)(296.7,45.3)(301.7,62.0)(306.7,81.5)(311.7,75.9)(318.3,48.1)(326,20.1)(331.7,27.1)(336.7,34.1)(340,49.4)(345,49.4)(350,36.9)(355,21.5)(360,14.6)(363.3,27.1)(368.3,31.3)(373.3,28.5)(380,12.3)(383.3,11.2)(388.3,31.3)(393.3,59.2)(398.3,71.8)(401.7,74.6)(406.7,67.6)(411.7,76.0)(416.7,76.0)(420.7,81.5)(425,76.0)(431.7,64.8)(438.3,36.9)(445,11.8)(449,4.8)(453.3,7.6)(458.3,25.7)(463.3,57.8)(467.7,76.5)(471.7,62.0)(477.3,40.2)(481.7,38.8)(486.7,48.1)(491.7,48.1)(496,34.1)(500.7,49.4)(506,69.0)(511.7,76.0)(515,76.8)};
\end{axis}
\begin{axis}[mpan, at={(640pt,1052pt)}, height=126pt, ymin=-1.9, ymax=103.6, ymajorgrids=false, ytick={20,50,80}, f0]
\addplot[refg, line width=0.7pt] coordinates {(640,80)(692,80)};
\addplot[refg, line width=0.7pt] coordinates {(640,20)(692,20)};
\addplot[refg, line width=0.6pt, dd] coordinates {(640,50)(692,50)};
\addplot[blk] coordinates {(641,53.6)(645,25.7)(648.3,9.0)(650.7,4.8)(653.3,7.6)(656.7,34.1)(660.7,76.5)(663.3,62)(666.7,39.7)(669.3,38.3)(671.7,48.1)(674.3,48.1)(676.7,34.1)(680,53.6)(683.3,70.4)(686.7,76.5)(688.3,77.0)};
\end{axis}

% ================= PANEL 3 =================
\begin{axis}[lpan, rlab, at={(0pt,925pt)}, height=127pt, ymin=-2.05, ymax=1.707,
  ytick={-2,-1.75,-1.5,-1.25,-1,-0.75,-0.5,-0.25,0,0.25,0.5,0.75,1,1.25,1.5}, f2]
\addplot[hist] table[x expr=4+4.65*\thisrow{i}, y=h3] {\histtab};
\addplot[refg, line width=0.6pt, dd] coordinates {(0,0)(614,0)};
\addplot[sigg, thn] coordinates {(0,-0.13)(20,-0.275)(33.3,-0.37)(50,-0.52)(60,-0.47)(66.7,-0.275)(80,0.22)(96.7,0.66)(106.7,0.71)(120,0.61)(133.3,0.51)(143.3,0.42)(153.3,0.12)(163.3,-0.18)(173.3,-0.57)(186.7,-0.87)(200,-0.97)(213.3,-0.92)(226.7,-0.87)(240,-1.06)(253.3,-1.26)(266.7,-1.46)(280,-1.51)(293.3,-1.36)(303.3,-1.11)(310,-0.77)(320,-0.47)(333.3,-0.37)(346.7,-0.45)(360,-0.62)(380,-0.80)(400,-0.47)(420,-0.08)(436.7,0.14)(446.7,0.02)(463.3,-0.13)(480,-0.10)(496.7,-0.03)(515,0.12)};
\addplot[blk] coordinates {(0,-0.37)(20,-0.52)(33.3,-0.62)(46.7,-0.77)(55,-0.47)(66.7,0.02)(80,0.91)(88.3,1.55)(93.3,1.50)(100,1.01)(106.7,0.41)(115,0.17)(121.7,0.32)(128.3,0.56)(133.3,0.66)(138.3,0.56)(143.3,0.41)(151.7,0.12)(156.7,-0.18)(163.3,-0.87)(173.3,-1.56)(183.3,-1.71)(191.7,-1.56)(200,-1.16)(206.7,-0.82)(215,-0.62)(222.7,-0.49)(228.3,-0.67)(233.3,-1.26)(240,-1.76)(246.7,-1.95)(256.7,-1.85)(266.7,-1.80)(276.7,-1.56)(286.7,-1.16)(295,-0.96)(301.7,-0.37)(306.7,0.22)(311.7,0.48)(318.3,0.22)(323.3,-0.08)(330,-0.28)(340,-0.42)(350,-0.67)(360,-0.96)(370,-0.92)(380,-1.01)(390,-0.47)(400,0.02)(410,0.32)(416.7,0.56)(425,0.69)(433.3,0.56)(440,0.22)(446.7,-0.23)(455,-0.45)(463.3,-0.27)(470,-0.08)(476.7,-0.16)(483.3,-0.08)(493.3,-0.10)(500,0.02)(505,0.20)(515,0.37)};
\addplot[tl] coordinates {(240,-2.07)(520,-0.01)};
\end{axis}
\begin{axis}[mpan, at={(640pt,925pt)}, height=127pt, ymin=-0.489, ymax=0.576,
  ytick={-0.4,-0.3,-0.2,-0.1,0,0.1,0.2,0.3,0.5}, f2]
\addplot[mhist] coordinates {(641.5,0.05)(644.8,-0.15)(648.1,-0.30)(651.4,-0.37)(654.7,-0.25)(658,-0.10)(661.3,0.08)(664.6,-0.05)(667.9,-0.15)(671.2,-0.08)(674.5,-0.12)(677.8,-0.13)(681.1,0.0)(684.4,0.30)(687.7,0.52)};
\addplot[refg, line width=0.6pt, dd] coordinates {(640,0)(692,0)};
\addplot[sigg, thn] coordinates {(641,0.17)(645,0.18)(650,0.10)(655,-0.01)(660,-0.07)(666.7,-0.10)(673.3,-0.13)(678.3,-0.07)(683.3,-0.01)(688.3,0.10)};
\addplot[blk] coordinates {(641,0.56)(643.3,0.49)(646.7,0.10)(650,-0.24)(653.3,-0.45)(656.7,-0.35)(660,-0.18)(663.3,-0.13)(666.7,-0.07)(670,-0.10)(673.3,-0.13)(676.7,-0.10)(680,0.10)(683.3,0.21)(686.7,0.32)(688.3,0.38)};
\end{axis}

% ================= PANEL 4 =================
\begin{axis}[lpan, rlab, at={(0pt,799pt)}, height=126pt, ymin=-1.308, ymax=1.036,
  ytick={-1.2,-1,-0.8,-0.6,-0.4,-0.2,0,0.2,0.4,0.6,0.8}, f1]
\addplot[hist] table[x expr=4+4.65*\thisrow{i}, y=h4] {\histtab};
\addplot[zeroblue, line width=0.8pt] coordinates {(0,0)(614,0)};
\addplot[sigblue, thn] coordinates {(0,-0.14)(16.7,-0.26)(33.3,-0.36)(50,-0.48)(60,-0.39)(73.3,0.11)(83.3,0.48)(96.7,0.73)(106.7,0.60)(113.3,0.42)(126.7,0.48)(136.7,0.48)(146.7,0.36)(156.7,0.11)(166.7,-0.33)(180,-0.70)(190,-0.88)(200,-0.88)(213.3,-0.70)(226.7,-0.57)(240,-0.82)(253.3,-1.01)(266.7,-1.04)(280,-0.95)(293.3,-0.76)(303.3,-0.51)(313.3,-0.20)(323.3,-0.20)(336.7,-0.26)(353.3,-0.33)(366.7,-0.42)(380,-0.48)(400,-0.39)(413.3,-0.20)(430,0.015)(440,-0.08)(450,-0.14)(463.3,-0.08)(480,-0.05)(496.7,-0.03)(515,0.11)};
\addplot[blk] coordinates {(0,-0.17)(13.3,-0.26)(23.3,-0.39)(36.7,-0.42)(46.7,-0.51)(56.7,-0.26)(66.7,-0.02)(73.3,0.42)(81.7,0.73)(89.3,0.95)(95,0.85)(100,0.60)(106.7,0.29)(113.3,0.14)(120,0.26)(126.7,0.39)(131.7,0.60)(136.7,0.45)(141.7,0.29)(148.3,0.26)(153.3,0.05)(160,-0.39)(166.7,-0.70)(175,-1.01)(186.7,-1.01)(193.3,-0.88)(203.3,-0.64)(213.3,-0.51)(221.7,-0.45)(228.3,-0.64)(236.7,-1.01)(246.7,-1.16)(256.7,-1.07)(266.7,-1.07)(276.7,-1.01)(286.7,-0.82)(295,-0.64)(301.7,-0.33)(306.7,0.015)(311.7,0.015)(316.7,-0.17)(326.7,-0.23)(340,-0.26)(350,-0.39)(360,-0.45)(370,-0.45)(380,-0.48)(390,-0.33)(400,-0.14)(410,-0.05)(416.7,0.08)(421.7,0.23)(430,0.20)(436.7,0.11)(446.7,-0.08)(451.7,-0.17)(460,-0.08)(468.3,0.03)(473.3,-0.05)(480,-0.02)(490,-0.05)(496.7,-0.05)(503.3,0.14)(510,0.14)(515,0.18)};
\addplot[tl] coordinates {(240,-1.31)(453,-0.16)};
\end{axis}
\begin{axis}[mpan, at={(640pt,799pt)}, height=126pt, ymin=-0.206, ymax=0.1875,
  ytick={-0.2,-0.175,-0.15,-0.125,-0.1,-0.075,-0.05,-0.025,0,0.025,0.05,0.075,0.1,0.125,0.15}, f3]
\addplot[mhist] coordinates {(641.5,0.18)(644.8,0.10)(648.1,-0.06)(651.4,-0.15)(654.7,-0.14)(658,-0.06)(661.3,0.02)(664.6,-0.08)(667.9,-0.05)(671.2,-0.04)(674.5,-0.07)(677.8,-0.05)(681.1,0.06)(684.4,0.13)(687.7,0.17)};
\addplot[sigblue, line width=0.8pt] coordinates {(640,0)(692,0)};
\addplot[sigblue, thn] coordinates {(641,0.167)(646.7,0.031)(651.7,-0.094)(656.7,-0.094)(661.7,-0.052)(666.7,-0.052)(671.7,-0.0625)(676.7,-0.042)(681.7,0.031)(688.3,0.094)};
\addplot[blk] coordinates {(641,0.185)(643.3,0.167)(646.7,-0.01)(650,-0.115)(652.7,-0.18)(655,-0.115)(658.3,-0.052)(661,0.031)(663.3,-0.0625)(666.7,-0.099)(669.3,-0.01)(672.7,-0.052)(676.7,-0.073)(680,0.031)(683.3,0.135)(686,0.125)(688.3,0.177)};
\end{axis}

% ================= PANEL 5 =================
\begin{axis}[lpan, rlab, at={(0pt,672pt)}, height=127pt, ymin=-1.51, ymax=0.694,
  ytick={-1.4,-1.2,-1,-0.8,-0.6,-0.4,-0.2,0,0.2,0.4,0.6}, f1]
\addplot[draw=none] coordinates {(0,0)(614,0)};
\end{axis}
\begin{axis}[ov, clip=true, at={(0pt,672pt)}, width=614pt, height=127pt, xmin=0, xmax=614, ymin=-1.614, ymax=0.590]
\addplot[hist] table[x expr=4+4.65*\thisrow{i}, y=h5] {\histtab};
\end{axis}
\begin{axis}[ov, clip=true, at={(0pt,672pt)}, width=614pt, height=127pt, xmin=0, xmax=614, ymin=-1.51, ymax=0.694]
\addplot[refg!80!black, line width=0.6pt, dd] coordinates {(0,0)(614,0)};
\addplot[sigg, thn] coordinates {(0,-0.07)(20,-0.214)(40,-0.36)(56.7,-0.446)(66.7,-0.388)(80,-0.127)(90,0.278)(103.3,0.451)(120,0.509)(136.7,0.509)(150,0.451)(160,0.335)(170,0.104)(180,-0.30)(193.3,-0.59)(206.7,-0.76)(220,-0.76)(233.3,-0.82)(246.7,-0.995)(263.3,-1.23)(276.7,-1.37)(290,-1.40)(300,-1.285)(313.3,-0.94)(326.7,-0.71)(340,-0.56)(353.3,-0.50)(366.7,-0.56)(380,-0.70)(400,-0.475)(420,-0.185)(436.7,0.017)(446.7,0.029)(463.3,-0.058)(480,-0.087)(496.7,-0.07)(515,0.017)};
\addplot[blk] coordinates {(0,-0.127)(13.3,-0.214)(26.7,-0.30)(40,-0.417)(50,-0.50)(60,-0.446)(70,-0.30)(80,-0.012)(90,0.451)(100,0.596)(106.7,0.596)(113.3,0.509)(123.3,0.451)(133.3,0.48)(143.3,0.48)(153.3,0.393)(163.3,0.162)(170,-0.07)(176.7,-0.36)(186.7,-0.65)(200,-0.91)(213.3,-0.85)(226.7,-0.793)(233.3,-0.88)(243.3,-1.11)(256.7,-1.31)(266.7,-1.40)(280,-1.43)(290,-1.37)(300,-1.23)(306.7,-0.94)(313.3,-0.71)(323.3,-0.53)(333.3,-0.50)(346.7,-0.475)(360,-0.56)(370,-0.65)(380,-0.71)(393.3,-0.50)(406.7,-0.30)(416.7,-0.127)(426.7,0.046)(433.3,0.116)(443.3,0.046)(453.3,-0.07)(466.7,-0.07)(480,-0.099)(493.3,-0.099)(503.3,-0.041)(515,0.058)};
\addplot[tl] coordinates {(270,-1.53)(505,-0.37)};
\end{axis}
\begin{axis}[mpan, at={(640pt,672pt)}, height=127pt, ymin=-0.1013, ymax=0.1429,
  ytick={-0.075,-0.05,-0.025,0,0.025,0.05,0.075,0.1,0.125}, f3]
\addplot[draw=none] coordinates {(640,0)(692,0)};
\end{axis}
\begin{axis}[ov, clip=true, at={(640pt,672pt)}, width=52pt, height=127pt, xmin=640, xmax=692, ymin=-0.2442, ymax=0]
\addplot[mhist] coordinates {(641.5,-0.208)(644.8,-0.218)(648.1,-0.238)(651.4,-0.243)(654.7,-0.188)(658,-0.143)(661.3,-0.163)(664.6,-0.168)(667.9,-0.143)(671.2,-0.146)(674.5,-0.133)(677.8,-0.118)(681.1,-0.087)(684.4,-0.053)(687.7,-0.018)};
\end{axis}
\begin{axis}[ov, clip=true, at={(640pt,672pt)}, width=52pt, height=127pt, xmin=640, xmax=692, ymin=-0.1013, ymax=0.1429]
\addplot[refg!80!black, line width=0.6pt, dd] coordinates {(640,0)(692,0)};
\addplot[sigg, thn] coordinates {(641.7,0.0)(646.7,0.033)(650,0.007)(653.3,-0.038)(658.3,-0.057)(665,-0.07)(671.7,-0.08)(676.7,-0.083)(681.7,-0.051)(688.3,0.0)};
\addplot[blk] coordinates {(641.7,0.132)(645,0.097)(648.3,0.045)(651.7,-0.006)(654,-0.07)(656.7,-0.083)(660,-0.057)(663.3,-0.076)(666.7,-0.083)(670,-0.076)(675,-0.092)(678.3,-0.083)(681.7,-0.032)(685,0.026)(688.3,0.071)};
\end{axis}

% ================= PANEL 6 =================
\begin{axis}[lpan, rlab, at={(0pt,546pt)}, height=126pt, ymin=-1.97, ymax=0.728,
  ytick={-1.75,-1.5,-1.25,-1,-0.75,-0.5,-0.25,0,0.25,0.5}, f2]
\addplot[hist] table[x expr=4+4.65*\thisrow{i}, y=h6] {\histtab};
\addplot[zeroblue, line width=0.8pt] coordinates {(0,0)(614,0)};
\addplot[sigpurp, thn] coordinates {(0,-0.14)(20,-0.28)(40,-0.53)(56.7,-0.62)(66.7,-0.53)(80,-0.21)(93.3,0.22)(106.7,0.36)(120,0.44)(133.3,0.54)(146.7,0.58)(156.7,0.47)(166.7,0.15)(180,-0.28)(193.3,-0.64)(213.3,-0.89)(226.7,-0.96)(240,-1.28)(260,-1.63)(273.3,-1.81)(286.7,-1.85)(296.7,-1.81)(306.7,-1.53)(320,-1.39)(333.3,-1.31)(346.7,-1.24)(360,-1.26)(380,-1.29)(400,-1.10)(420,-0.85)(440,-0.53)(460,-0.53)(480,-0.42)(500,-0.31)(515,-0.24)};
\addplot[blk] coordinates {(0,-0.17)(13.3,-0.24)(26.7,-0.35)(46.7,-0.67)(56.7,-0.64)(66.7,-0.49)(76.7,-0.21)(86.7,0.26)(96.7,0.42)(106.7,0.36)(113.3,0.31)(123.3,0.44)(131.7,0.61)(140,0.58)(150,0.54)(160,0.29)(170,-0.06)(180,-0.42)(193.3,-0.78)(206.7,-0.85)(220,-0.89)(230,-1.06)(240,-1.42)(253.3,-1.63)(266.7,-1.85)(276.7,-1.88)(286.7,-1.85)(293.3,-1.85)(300,-1.56)(306.7,-1.35)(320,-1.31)(333.3,-1.28)(346.7,-1.21)(360,-1.24)(380,-1.29)(393.3,-1.14)(406.7,-0.96)(420,-0.71)(433.3,-0.46)(446.7,-0.53)(460,-0.49)(470,-0.42)(480,-0.39)(493.3,-0.31)(503.3,-0.24)(515,-0.15)};
\addplot[tl] coordinates {(270,-1.97)(502,-0.58)};
\end{axis}
\begin{axis}[mpan, at={(640pt,546pt)}, height=126pt, ymin=-0.543, ymax=0.0178,
  ytick={-0.5,-0.45,-0.4,-0.35,-0.3,-0.25,-0.2,-0.1,-0.05}, f2]
\addplot[mhist] coordinates {(641.5,-0.46)(644.8,-0.50)(648.1,-0.525)(651.4,-0.51)(654.7,-0.46)(658,-0.40)(661.3,-0.40)(664.6,-0.40)(667.9,-0.37)(671.2,-0.36)(674.5,-0.36)(677.8,-0.31)(681.1,-0.25)(684.4,-0.20)(687.7,-0.15)};
\addplot[zeroblue, line width=0.8pt] coordinates {(640,0)(692,0)};
\addplot[sigpurp, thn] coordinates {(645,-0.54)(650,-0.526)(655,-0.474)(660,-0.444)(666.7,-0.407)(673.3,-0.355)(680,-0.31)(685,-0.236)(688.3,-0.229)};
\addplot[blk] coordinates {(641.7,-0.459)(645,-0.503)(648.3,-0.526)(651.7,-0.511)(654,-0.474)(656.7,-0.40)(660,-0.392)(662.7,-0.414)(666,-0.384)(669.3,-0.362)(673.3,-0.362)(677.3,-0.318)(681.7,-0.236)(685,-0.199)(688.3,-0.147)};
\end{axis}

% ================= PANEL 7 =================
\begin{axis}[lpan, rlab, at={(0pt,419pt)}, height=127pt, ymin=-1.238, ymax=0.378,
  ytick={-1.2,-1,-0.8,-0.6,-0.4,-0.2,0,0.2}, f1]
\addplot[hist] table[x expr=4+4.65*\thisrow{i}, y=h7] {\histtab};
\addplot[gray!70!olivec, line width=0.6pt, dd] coordinates {(0,-0.35)(614,-0.35)};
\addplot[sigpurp, thn] coordinates {(0,-0.12)(33.3,-0.23)(63.3,-0.335)(80,-0.27)(100,-0.06)(120,0.07)(140,0.17)(153.3,0.24)(166.7,0.20)(186.7,-0.02)(206.7,-0.27)(226.7,-0.44)(246.7,-0.70)(266.7,-0.91)(283.3,-1.03)(300,-1.10)(320,-1.08)(340,-1.03)(360,-0.97)(380,-0.93)(400,-0.91)(416.7,-0.80)(433.3,-0.65)(450,-0.57)(470,-0.53)(490,-0.44)(515,-0.29)};
\addplot[blk] coordinates {(0,-0.335)(46.7,-0.40)(66.7,-0.27)(83.3,0.03)(96.7,0.15)(113.3,0.15)(133.3,0.32)(146.7,0.30)(156.7,0.24)(170,-0.02)(183.3,-0.27)(200,-0.44)(213.3,-0.48)(233.3,-0.70)(246.7,-0.82)(260,-0.95)(273.3,-1.03)(286.7,-1.08)(300,-1.08)(313.3,-0.99)(326.7,-0.97)(346.7,-0.91)(366.7,-0.91)(380,-0.91)(393.3,-0.89)(406.7,-0.80)(420,-0.70)(433.3,-0.61)(446.7,-0.57)(460,-0.57)(473.3,-0.53)(486.7,-0.48)(500,-0.38)(515,-0.21)};
\addplot[blk] coordinates {(0,-0.44)(55,-0.63)(80,-0.10)(100,0.30)(106.7,0.32)(116.7,0.28)(126.7,0.15)(143.3,-0.02)(156.7,-0.14)(166.7,-0.44)(180,-0.87)(193.3,-1.12)(203.3,-1.16)(216.7,-1.03)(230,-0.82)(236.7,-0.78)(246.7,-0.87)(260,-1.03)(270,-1.06)(280,-0.99)(293.3,-0.78)(306.7,-0.44)(320,-0.14)(333.3,-0.04)(343.3,-0.04)(353.3,-0.10)(366.7,-0.23)(380,-0.31)(393.3,-0.31)(406.7,-0.23)(420,-0.08)(435,0.13)(446.7,0.07)(463.3,-0.10)(476.7,-0.17)(490,-0.19)(503.3,-0.15)(515,-0.14)};
\addplot[tl] coordinates {(283,-1.27)(405,-0.91)};
\end{axis}
\begin{axis}[mpan, at={(640pt,419pt)}, height=127pt, ymin=-0.66, ymax=0.204,
  ytick={-0.6,-0.4,-0.1,0}, f2]
\addplot[mhist] coordinates {(641.5,0.20)(644.8,0.17)(648.1,0.11)(651.4,0.09)(654.7,0.08)(658,0.09)(661.3,0.10)(664.6,0.09)(667.9,0.08)(671.2,0.07)(674.5,0.07)(677.8,0.08)(681.1,0.09)(684.4,0.10)(687.7,0.10)};
\addplot[sigpurp, thn] coordinates {(643,-0.61)(656.7,-0.48)(670,-0.41)(680,-0.35)(688.3,-0.30)};
\addplot[blk] coordinates {(641,-0.47)(650,-0.47)(655,-0.43)(662,-0.38)(670,-0.37)(677,-0.32)(683,-0.26)(688,-0.20)};
\addplot[blk] coordinates {(641,0.18)(647,-0.01)(654,-0.23)(659,-0.46)(663,-0.60)(668,-0.64)(674,-0.63)(680,-0.58)(686,-0.52)(688,-0.50)};
\end{axis}

% ================= PANEL 8 =================
\begin{axis}[lpan, rlab, at={(0pt,293pt)}, height=126pt, ymin=-253.6, ymax=94.8,
  ytick={-250,-225,-200,-175,-150,-125,-100,-75,-50,-25,0,25,50,75}, f0]
\addplot[olivec, line width=0.7pt] coordinates {(0,0)(614,0)};
\addplot[redl, line width=0.6pt] coordinates {(0,-1.9)(20,-17.6)(43.3,-40.7)(66.7,-59.1)(80,-61)(93.3,-40.7)(110,0.8)(126.7,42.3)(143.3,65.3)(156.7,77.3)(166.7,74.6)(180,42.3)(196.7,-3.8)(213.3,-54.5)(233.3,-100.6)(253.3,-142)(273.3,-188.1)(290,-220.4)(303.3,-234.2)(320,-225)(333.3,-211.2)(350,-178.9)(366.7,-151.3)(380,-137.4)(400,-123.6)(416.7,-105.2)(433.3,-72.9)(450,-40.7)(466.7,-25)(480,-19.5)(496.7,-19.5)(515,-19.5)};
\addplot[blk] coordinates {(0,-5.6)(20,-26.8)(43.3,-59.1)(53.3,-68.3)(66.7,-68.3)(80,-45.3)(93.3,0.8)(106.7,33.1)(116.7,46.9)(133.3,81)(146.7,83.8)(156.7,74.6)(170,37.7)(186.7,-31.4)(200,-72.9)(216.7,-100.6)(233.3,-132.8)(250,-165.1)(266.7,-206.6)(276.7,-229.6)(290,-241.6)(296.7,-243.4)(310,-202)(326.7,-174.3)(343.3,-140.2)(360,-140.2)(366.7,-131)(380,-140)(393.3,-137.4)(406.7,-114.4)(420,-77.5)(433.3,-40.7)(446.7,-26.8)(460,-15.8)(470,-13)(480,-17.6)(493.3,-19.5)(503.3,-17.6)(515,-8.4)};
\end{axis}
\begin{axis}[mpan, at={(640pt,293pt)}, height=126pt, ymin=-96.4, ymax=-6.43,
  ytick={-90,-80,-70,-60,-50,-40,-30}, f0]
\addplot[redl, line width=0.6pt] coordinates {(641.7,-96.2)(646.7,-74.8)(651.7,-46.2)(656.7,-27.1)(661.7,-20)(666.7,-17.1)(673.3,-17.1)(680,-17.6)(688.3,-17.6)};
\addplot[blk] coordinates {(641,-46.2)(645,-34.3)(650,-22.4)(655,-17.6)(660,-12.9)(665,-18.8)(670,-17.6)(675,-18.8)(676.7,-21.2)(680,-18.8)(685,-16.4)(688.3,-9.3)};
\end{axis}

% ================= PANEL 9 =================
\begin{axis}[lpan, rlab, at={(0pt,166pt)}, height=127pt, ymin=-9.07, ymax=2.8,
  ytick={-8,-7,-6,-5,-4,-3,-2,-1,0,1,2}, f0]
\addplot[olivec, line width=0.6pt, dd] coordinates {(0,0)(614,0)};
\addplot[sigg, thn] coordinates {(0,-0.59)(26.7,-1.22)(46.7,-1.99)(66.7,-2.15)(83.3,-1.22)(100,0.03)(120,0.65)(140,1.59)(156.7,1.90)(170,1.43)(186.7,0.19)(200,-1.06)(220,-2.15)(233.3,-3.08)(253.3,-4.95)(273.3,-6.51)(290,-7.60)(300,-7.91)(316.7,-7.29)(333.3,-6.98)(353.3,-6.51)(366.7,-6.45)(380,-6.67)(400,-6.20)(420,-5.27)(440,-4.02)(460,-3.40)(480,-2.77)(500,-2.15)(515,-1.78)};
\addplot[blk] coordinates {(0,-0.75)(20,-1.22)(46.7,-2.46)(60,-2.31)(73.3,-1.37)(86.7,0.19)(100,1.21)(110,1.12)(120,1.59)(133.3,2.37)(146.7,2.21)(156.7,1.90)(170,0.34)(186.7,-1.84)(200,-2.62)(213.3,-2.93)(223.3,-3.24)(233.3,-4.64)(246.7,-6.20)(260,-7.45)(273.3,-8.22)(286.7,-8.54)(293.3,-8.69)(303.3,-6.82)(316.7,-6.67)(330,-6.36)(343.3,-6.20)(356.7,-6.51)(366.7,-6.51)(380,-6.82)(393.3,-5.89)(406.7,-5.11)(420,-4.02)(433.3,-2.93)(443.3,-2.93)(456.7,-2.93)(466.7,-2.31)(480,-2.31)(493.3,-1.84)(506.7,-1.22)(515,-0.90)};
\end{axis}
\begin{axis}[mpan, at={(640pt,166pt)}, height=127pt, ymin=-4.32, ymax=-0.756,
  ytick={-4.25,-4,-3.75,-3.5,-3.25,-3,-2.75,-2.5,-2.25,-2,-1.5,-1.25,-1}, f2]
\addplot[sigg, thn] coordinates {(641,-4.30)(646.7,-3.74)(653.3,-3.18)(660,-2.81)(666.7,-2.43)(673.3,-2.15)(680,-1.96)(687.3,-1.73)};
\addplot[blk] coordinates {(641,-2.81)(645,-2.95)(651.7,-2.99)(655,-2.62)(660,-2.29)(662.7,-2.34)(666,-2.10)(669.3,-2.01)(673.3,-1.96)(678.3,-1.59)(681.7,-1.31)(685,-1.12)(687.3,-0.89)};
\end{axis}

% ================= PANEL 10 =================
\begin{axis}[lpan, rlab, at={(0pt,40pt)}, height=126pt, ymin=-2.5, ymax=103.1, ymajorgrids=false,
  ytick={20,50,80}, f0, minor ytick={10,30,40,60,70,90}, yminorgrids]
\addplot[olivec, line width=0.7pt] coordinates {(0,80)(614,80)};
\addplot[olivec, line width=0.7pt] coordinates {(0,20)(614,20)};
\addplot[olivec, line width=0.6pt, dd] coordinates {(0,50)(614,50)};
\addplot[redl, line width=0.6pt] coordinates {(0,17)(8,15)(15,12)(22,11)(30,8)(36,6)(45,6)(52,7)(58,12)(65,22)(72,40)(80,65)(87,87)(93,89)(100,80)(108,65)(115,56)(122,58)(128,75)(136,85)(141,86)(147,75)(155,68)(166,50)(176,12)(185,7)(195,8)(205,11)(212,12)(225,9)(240,5)(252,5)(262,5)(275,5)(290,6)(300,7)(313,18)(326,10)(336,7)(350,6)(365,3)(380,2)(395,7)(410,12)(425,15)(437,15)(452,10)(470,15)(485,12)(500,12)(508,16)(515,27.6)};
\addplot[blk] coordinates {(0,18.4)(6.7,15.6)(13.3,11.4)(20,12.8)(26.7,10.0)(33.3,5.8)(40,7.2)(46.7,7.2)(53.3,11.4)(60,22.6)(66.7,33.7)(73.3,56.1)(80,81.2)(85,89.6)(91.7,89.6)(100,75.7)(106.7,61.7)(113.3,51.9)(120,57.5)(126.7,75.7)(133.3,85.4)(138.3,85.4)(143.3,72.9)(153.3,64.5)(163.3,45.0)(173.3,8.6)(183.3,7.2)(193.3,7.2)(200,8.6)(206.7,12.8)(220,8.6)(233.3,5.8)(246.7,3.6)(256.7,6.4)(266.7,4.4)(280,5.8)(293.3,5.8)(300,7.2)(311.7,21.2)(323.3,8.6)(333.3,7.2)(346.7,5.8)(360,3.0)(380,1.6)(393.3,8.6)(406.7,12.8)(423.3,17.0)(433.3,15.6)(450,8.6)(466.7,17.0)(480,12.8)(496.7,12.8)(503.3,19.8)(515,33.7)};
\end{axis}
\begin{axis}[ov, at={(0pt,40pt)}, width=614pt, height=126pt, xmin=0, xmax=614, ymin=-2.5, ymax=103.1]
\addplot[tl] coordinates {(51.7,93.8)(636.7,42.1)};
\end{axis}
\begin{axis}[mpan, at={(640pt,40pt)}, height=126pt, ymin=-2.5, ymax=103.1, ymajorgrids=false, ytick={20,50,80}, f0]
\addplot[olivec, line width=0.7pt] coordinates {(640,80)(692,80)};
\addplot[olivec, line width=0.7pt] coordinates {(640,20)(692,20)};
\addplot[olivec, line width=0.6pt, dd] coordinates {(640,50)(692,50)};
\addplot[redl, line width=0.6pt] coordinates {(641,15.6)(646.7,12.8)(650.7,9.2)(655,12.8)(661.7,15.6)(666.7,13.6)(673.3,12.8)(678.3,14.2)(683.3,21.2)(687.3,28.2)};
\addplot[blk] coordinates {(641,15.6)(646,11.4)(650,8.6)(654,12.8)(660,17.0)(663.3,14.2)(667.3,12.8)(671.7,14.2)(676,12.8)(679.3,17.0)(683.3,25.4)(687.3,33.7)};
\end{axis}

% ================= PANEL 11 (strip) =================
\begin{axis}[lpan, rlab, at={(0pt,0pt)}, height=40pt, ymin=69.9, ymax=103.5, ytick={80}, f0]
\addplot[brownl, line width=0.8pt] coordinates {(0,80)(614,80)};
\addplot[blk, line width=0.5pt] coordinates {(83,69.9)(89,80)(95,69.9)};
\end{axis}
\begin{axis}[mpan, at={(640pt,0pt)}, height=40pt, ymin=69.9, ymax=103.5, ytick={80}, f0]
\addplot[brownl, line width=0.8pt] coordinates {(640,80)(692,80)};
\end{axis}

% value boxes on the right of the small charts
\node[lbox=gray] at (691,1480) {14.68};
\node[lbox=navyc] at (691,1425) {14.46};
\node[lbox=ma50] at (691,1406.7) {14.38};
\node[lbox=navyc] at (691,1384.3) {14.29};
\node[lbox=purp] at (691,1370) {14.24};
\node[lbox=purp] at (691,1364) {14.21};
\node[lbox=gray] at (691,1146.3) {77.10};
\node[lbox=black] at (691,1047.7) {0.378};
\node[lbox=sigg] at (691,1029.3) {0.262};
\node[lbox=sigg] at (691,991) {0.020};
\node[lbox=black] at (691,921) {0.175};
\node[lbox=sigblue] at (691,895.3) {0.094};
\node[lbox=sigblue] at (691,865) {0.000};
\node[lbox=black] at (691,794.3) {0.137};
\node[lbox=black] at (691,763.3) {0.074};
\node[lbox=sigg] at (691,725.7) {0.000};
\node[lbox=sigblue] at (691,668) {0.0000};
\node[lbox=black] at (691,635) {-0.149};
\node[lbox=sigpurp] at (691,616) {-0.231};
\node[lbox=sigg] at (691,531.3) {0.102};
\node[lbox=black] at (691,487.3) {-0.201};
\node[lbox=sigpurp] at (691,472.3) {-0.292};
\node[lbox=black] at (691,441.7) {-0.500};
\node[lbox=black] at (691,415) {-9.67};
\node[lbox=redl] at (691,403.3) {-17.72};
\node[lbox=black] at (691,288.3) {-0.88};
\node[lbox=sigg] at (691,258.3) {-1.74};
\node[lbox=black] at (691,84) {34.10};
\node[lbox=redl] at (691,76) {27.59};
\end{tikzpicture}}%
\end{document}
